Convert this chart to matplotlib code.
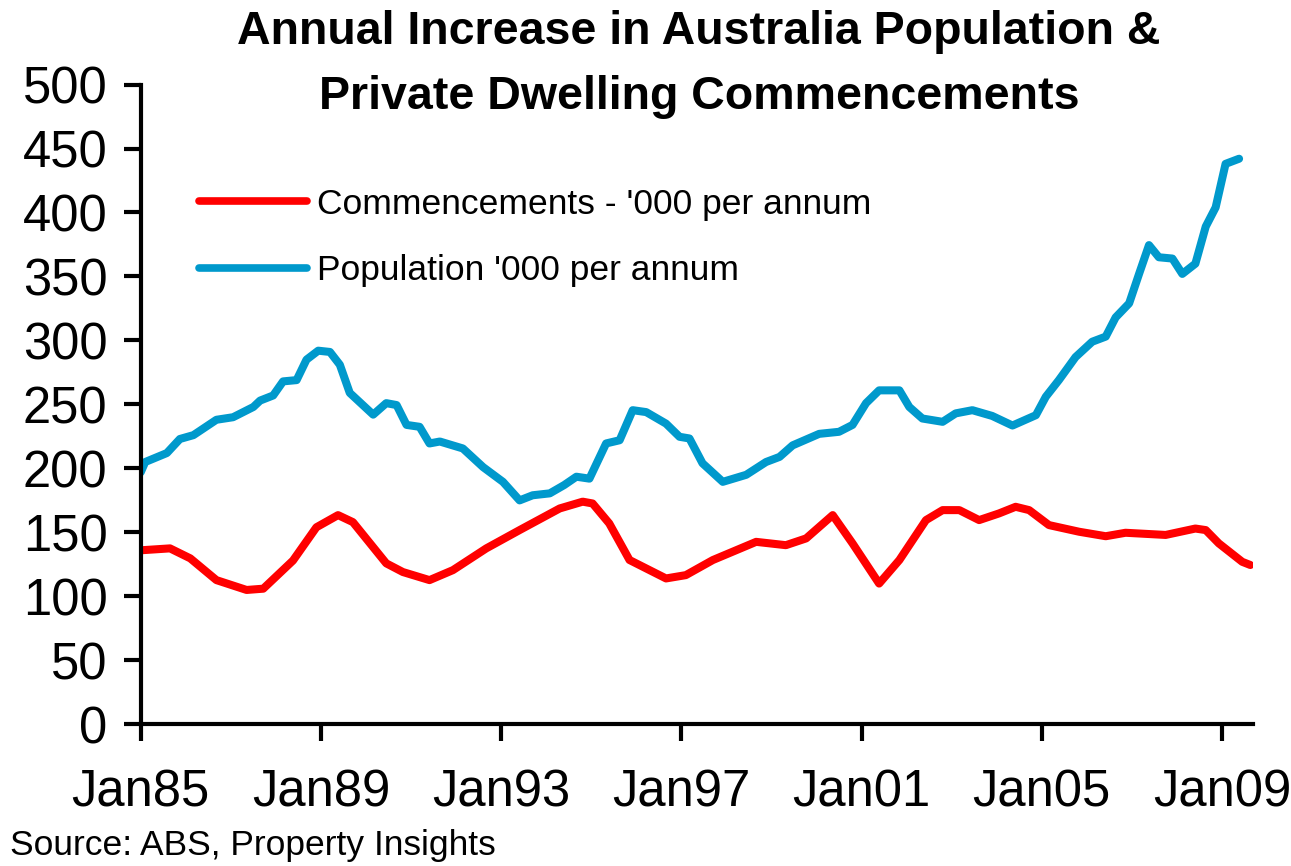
import matplotlib
matplotlib.use("Agg")
import matplotlib.pyplot as plt

plt.rcParams['font.family'] = ['Liberation Sans', 'DejaVu Sans']

# --- data (decimal years, '000 per annum) ---
pop_years = [1985.0, 1985.1, 1985.58, 1985.87, 1986.17, 1986.68, 1987.05, 1987.5, 1987.65, 1987.94,
             1988.16, 1988.46, 1988.68, 1988.94, 1989.2, 1989.42, 1989.64, 1990.16, 1990.45, 1990.68,
             1990.9, 1991.19, 1991.41, 1991.64, 1992.15, 1992.6, 1993.04, 1993.41, 1993.7, 1994.08,
             1994.4, 1994.67, 1994.96, 1995.33, 1995.63, 1995.92, 1996.22, 1996.66, 1996.96, 1997.18,
             1997.47, 1997.92, 1998.44, 1998.88, 1999.18, 1999.47, 2000.06, 2000.5, 2000.8, 2001.1,
             2001.39, 2001.84, 2002.06, 2002.35, 2002.8, 2003.09, 2003.46, 2003.9, 2004.35, 2004.87,
             2005.09, 2005.38, 2005.75, 2006.12, 2006.42, 2006.64, 2006.94, 2007.16, 2007.38, 2007.6,
             2007.9, 2008.12, 2008.41, 2008.64, 2008.86, 2009.08, 2009.38]
pop_values = [197, 205, 212, 223, 226, 238, 240, 248, 253, 257,
              268, 269, 285, 292, 291, 281, 259, 242, 251, 249.5,
              234, 232.5, 219.5, 221, 215.6, 201, 189.5, 175, 179, 180.5,
              187, 193.5, 192, 219.5, 222, 245.5, 244, 235, 224.7, 223.4,
              204, 189.5, 195, 205, 209, 218, 227, 228.6, 234, 251,
              261, 261, 248, 239, 236.4, 243, 245.5, 241, 233.5, 241.6,
              256, 269, 287, 299, 303, 318, 329, 352, 374.5, 365,
              364, 352, 360, 389, 404, 438, 442]

com_years = [1985.0, 1985.65, 1986.1, 1986.68, 1987.35, 1987.72, 1988.38, 1988.9, 1989.38, 1989.71,
             1990.45, 1990.82, 1991.41, 1991.93, 1992.67, 1993.41, 1994.3, 1994.81, 1995.03, 1995.4,
             1995.85, 1996.66, 1997.1, 1997.7, 1998.66, 1999.32, 1999.77, 2000.36, 2000.8, 2001.39,
             2001.84, 2002.43, 2002.8, 2003.17, 2003.61, 2004.05, 2004.42, 2004.72, 2005.16, 2005.83,
             2006.42, 2006.86, 2007.75, 2008.41, 2008.64, 2008.93, 2009.45, 2009.63]
com_values = [136, 137.5, 129.7, 112.7, 105, 106, 128, 154, 163.5, 158,
              125.8, 119, 112.7, 120.5, 137.5, 151.8, 168.7, 174, 172.6, 157,
              128.4, 114, 116.6, 128.4, 142.6, 140, 145.3, 163.5, 141.4, 110,
              128.4, 159.6, 167.4, 167.4, 159.6, 164.8, 170, 167.4, 155.7, 150.5,
              147, 149.7, 148, 153, 151.8, 141.4, 127, 124.5]

x_tick_years = [1985, 1989, 1993, 1997, 2001, 2005, 2009]
x_tick_labels = ['Jan85', 'Jan89', 'Jan93', 'Jan97', 'Jan01', 'Jan05', 'Jan09']
y_ticks = [0, 50, 100, 150, 200, 250, 300, 350, 400, 450, 500]

labels = ["Commencements - '000 per annum", "Population '000 per annum"]
title = "Annual Increase in Australia Population &\nPrivate Dwelling Commencements"
source = "Source: ABS, Property Insights"

RED = '#FF0000'
BLUE = '#0099CC'

fig = plt.figure(figsize=(12.91, 8.66), dpi=100)
ax = fig.add_axes([0.109, 0.1636, 0.8616, 0.7388])

ax.plot(com_years, com_values, color=RED, lw=5.8, solid_joinstyle='round', solid_capstyle='round', label=labels[0])
ax.plot(pop_years, pop_values, color=BLUE, lw=5.8, solid_joinstyle='round', solid_capstyle='round', label=labels[1])

ax.set_xlim(1985, 2009.69)
ax.set_ylim(0, 500)
ax.set_yticks(y_ticks)
ax.set_xticks(x_tick_years)
ax.set_xticklabels(x_tick_labels)

for s in ['top', 'right']:
    ax.spines[s].set_visible(False)
for s in ['left', 'bottom']:
    ax.spines[s].set_linewidth(3)
    ax.spines[s].set_color('black')

ax.tick_params(axis='y', direction='out', length=12, width=3, labelsize=36.5, pad=12)
ax.tick_params(axis='x', direction='out', length=12, width=3, labelsize=36.5, pad=20)

leg = ax.legend(loc='upper left', bbox_to_anchor=(0.04, 0.861), frameon=False, fontsize=25.5,
                handlelength=3.05, handletextpad=0.28, labelspacing=0.94, borderaxespad=0)
for line in leg.get_lines():
    line.set_linewidth(5.5)

fig.text(0.5415, 0.988, title, ha='center', va='top', fontsize=33.5, fontweight='bold', linespacing=1.62)
fig.text(0.008, 0.005, source, ha='left', va='bottom', fontsize=25.5)

fig.savefig('out.png', dpi=100)
